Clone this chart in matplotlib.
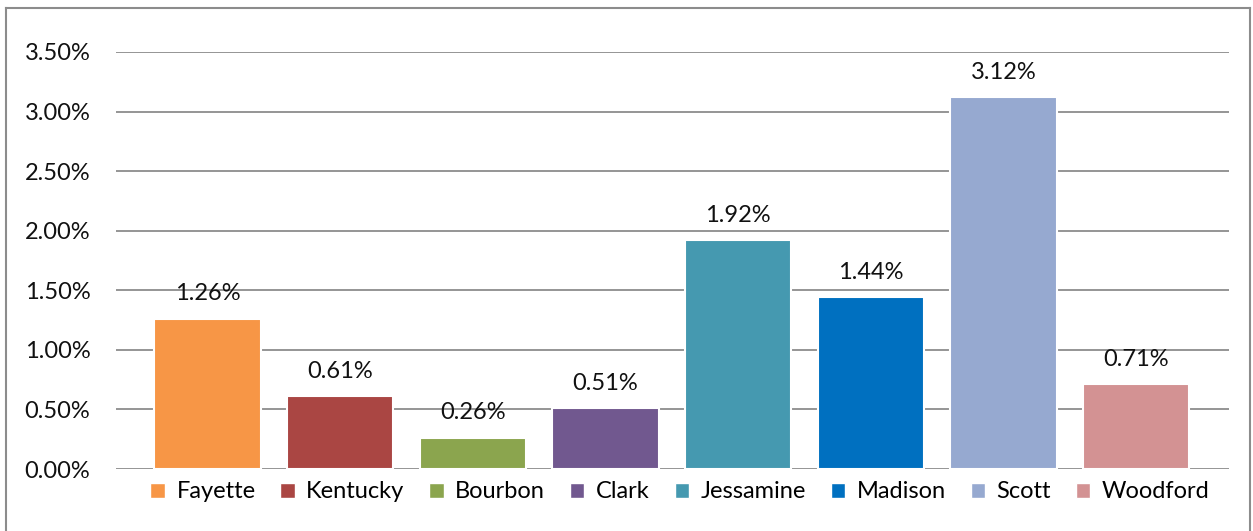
import matplotlib
matplotlib.use("Agg")
import matplotlib.pyplot as plt
from matplotlib.patches import Patch
from matplotlib.ticker import FuncFormatter
from matplotlib.lines import Line2D

# data
counties = ["Fayette", "Kentucky", "Bourbon", "Clark", "Jessamine", "Madison", "Scott", "Woodford"]
values = [0.0126, 0.0061, 0.0026, 0.0051, 0.0192, 0.0144, 0.0312, 0.0071]
colors = ["#F79646", "#AA4643", "#8BA54E", "#71588F", "#4599B0", "#0070C0", "#96A9D0", "#D39293"]

plt.rcParams["font.family"] = ["Lato", "DejaVu Sans"]

fig = plt.figure(figsize=(12.53, 5.31), dpi=100)
ax = fig.add_axes([116 / 1253, 1 - 469 / 531, (1229 - 116) / 1253, (469 - 52) / 531])

x = list(range(len(counties)))
ax.bar(x, values, width=0.8, color=colors, edgecolor="white", linewidth=1.5, zorder=3)

for xi, v in zip(x, values):
    ax.annotate(f"{v * 100:.2f}%", (xi, v), xytext=(0, 10.5), textcoords="offset points",
                ha="center", va="bottom", fontsize=17, color="#111111")

ax.set_ylim(0, 0.035)
ax.set_xlim(-0.69, 7.7)
ax.set_yticks([i * 0.005 for i in range(8)])
ax.yaxis.set_major_formatter(FuncFormatter(lambda v, p: f"{v * 100:.2f}%"))
ax.tick_params(axis="y", length=0, labelsize=17, pad=18.5, colors="#111111")
ax.set_xticks([])
ax.grid(axis="y", color="#8C8C8C", linewidth=1.3, zorder=0)
for s in ax.spines.values():
    s.set_visible(False)

# outer border (bottom edge is cut off)
bx0, bx1, by1 = 6 / 1253, 1250 / 1253, 1 - 8 / 531
for xs, ys in [([bx0, bx0], [0, by1]), ([bx0, bx1], [by1, by1]), ([bx1, bx1], [by1, 0])]:
    fig.add_artist(Line2D(xs, ys, transform=fig.transFigure, color="#8C8C8C", linewidth=1.5))

handles = [Patch(facecolor=c, edgecolor="white", label=n) for c, n in zip(colors, counties)]
fig.legend(handles=handles, loc="center", bbox_to_anchor=(680 / 1253, 1 - 492 / 531), ncol=8,
           frameon=False, fontsize=17, handlelength=0.6, handleheight=0.6, handletextpad=0.5,
           columnspacing=1.05, borderaxespad=0)

fig.savefig("out.png", dpi=100)
plt.close()
